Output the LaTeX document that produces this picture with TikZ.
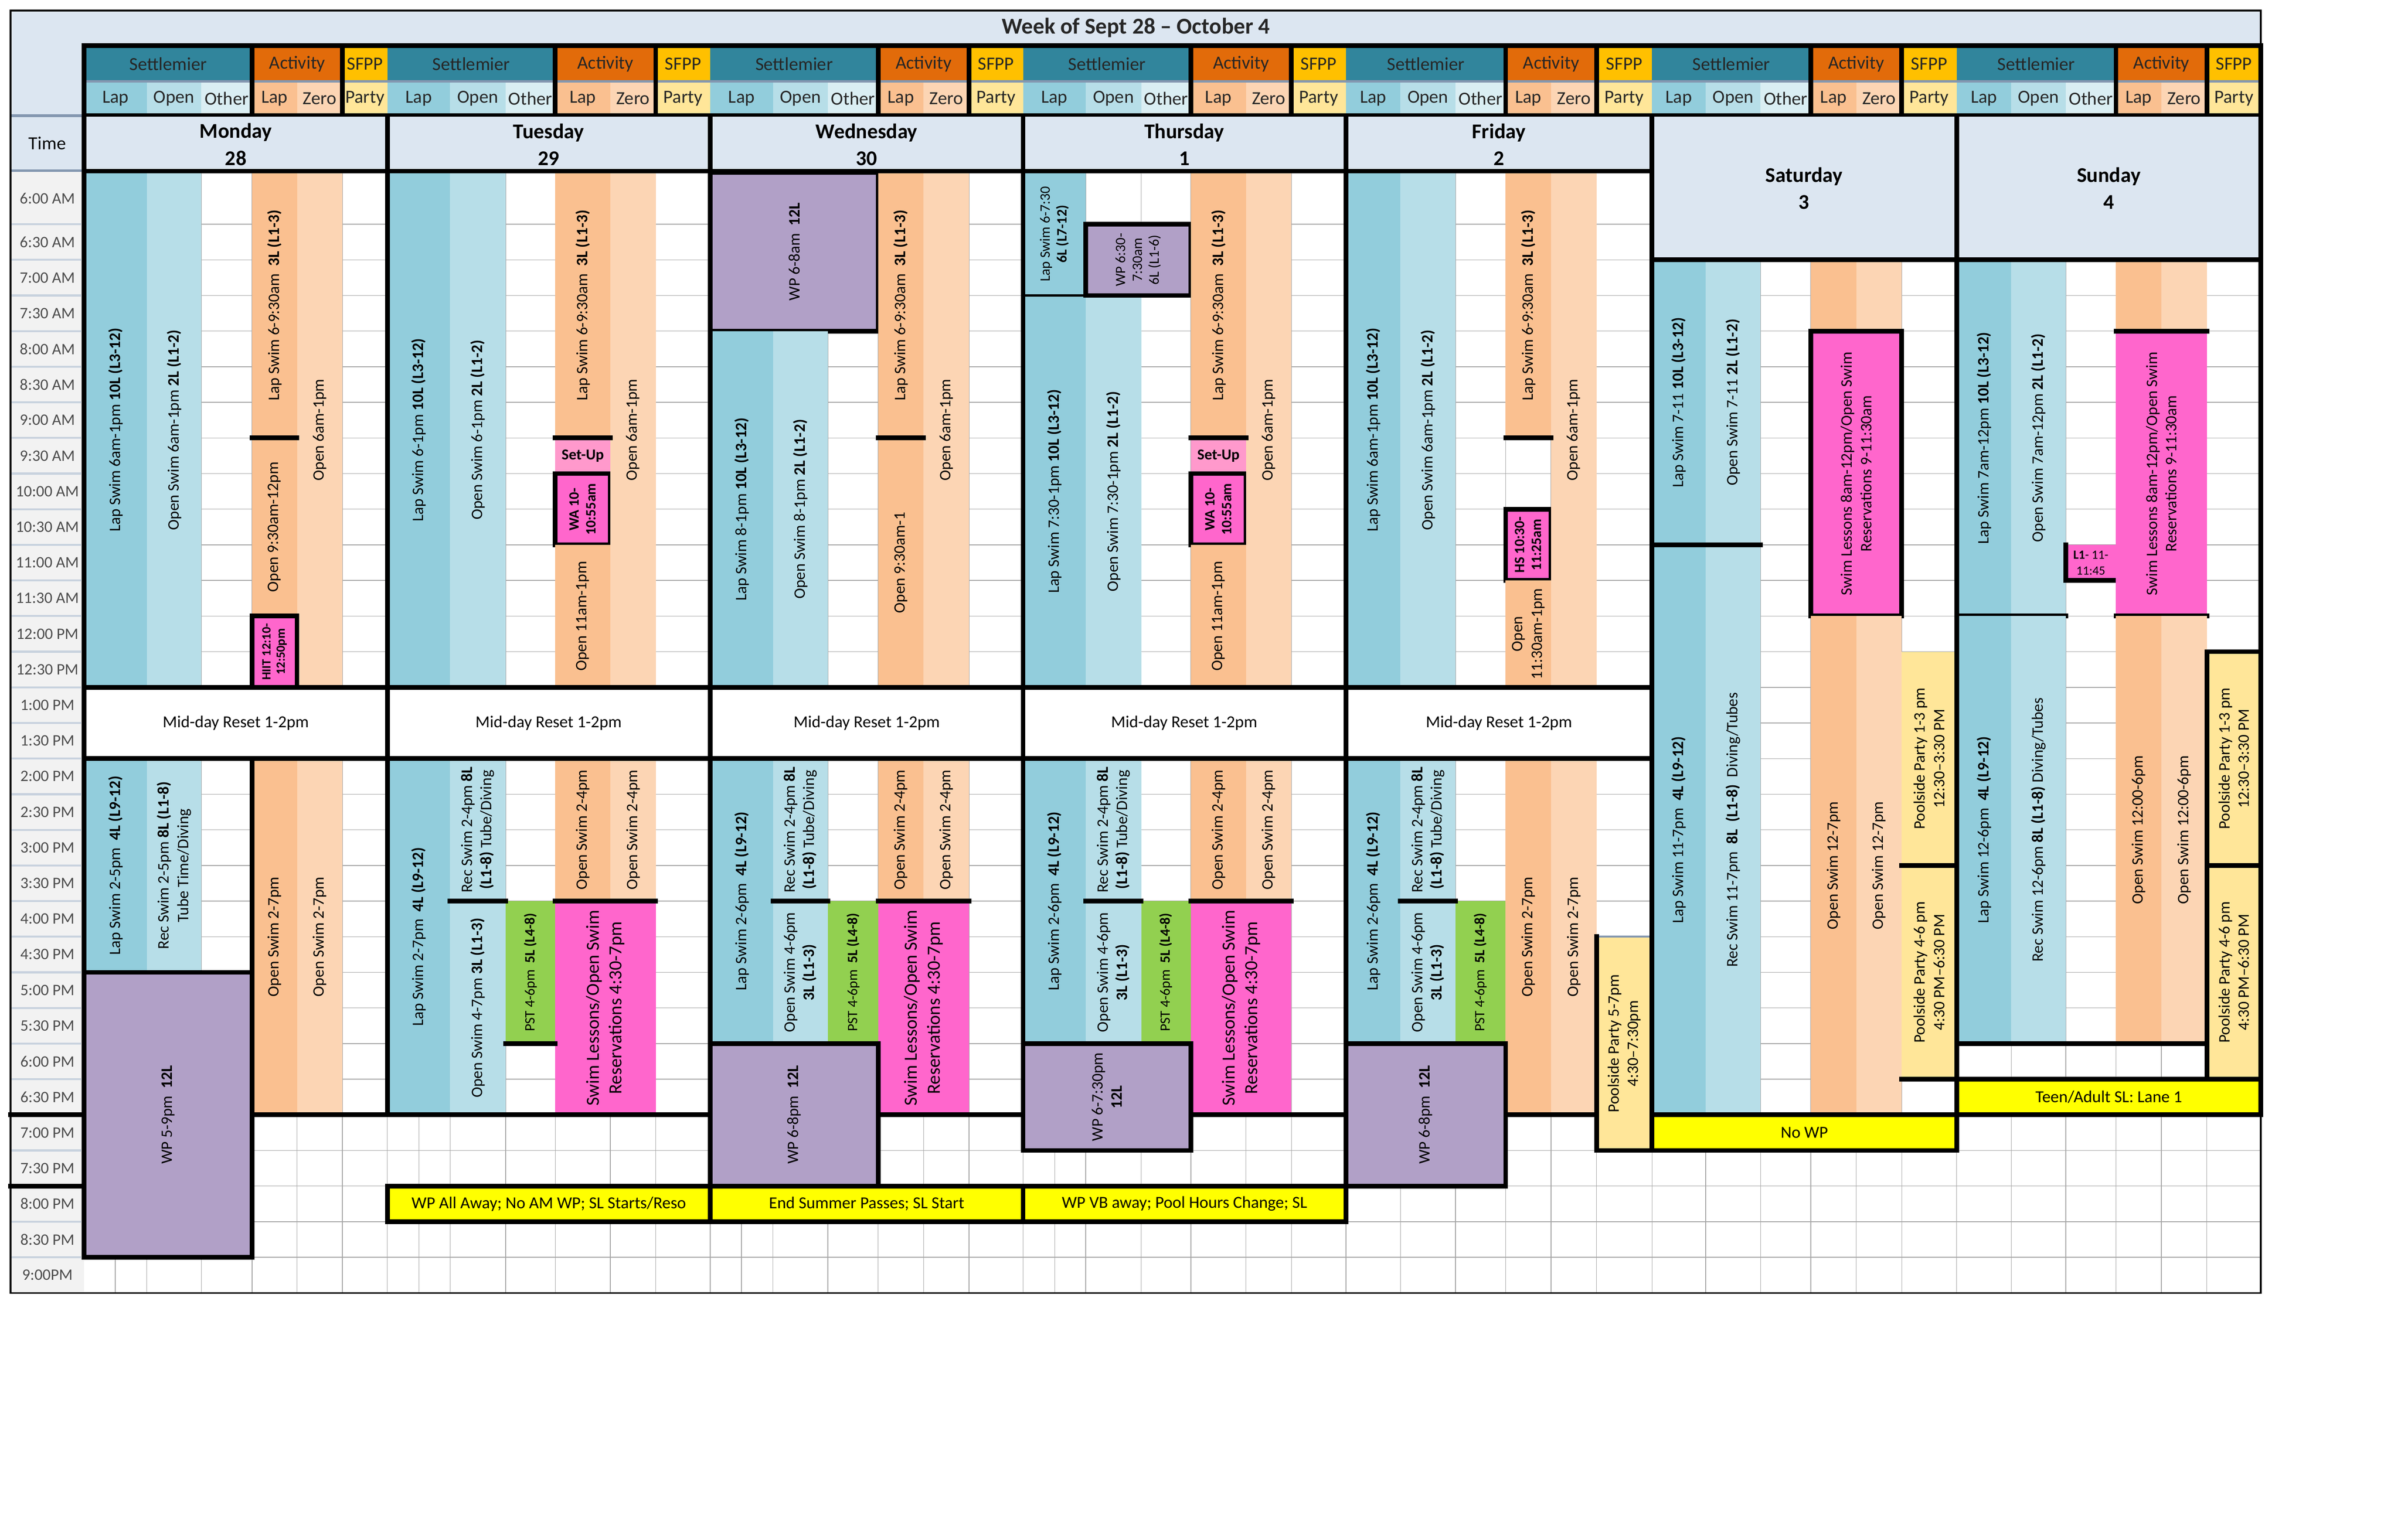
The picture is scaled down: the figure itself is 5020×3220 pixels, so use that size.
\documentclass[tikz,border=0pt]{standalone}
\usepackage{fontspec}
\setmainfont{Carlito}
\definecolor{lapC}{HTML}{92CDDC}
\definecolor{openC}{HTML}{B7DEE8}
\definecolor{otherC}{HTML}{DAEEF3}
\definecolor{alapC}{HTML}{FAC090}
\definecolor{zeroC}{HTML}{FCD5B4}
\definecolor{partyC}{HTML}{FFE699}
\definecolor{tealC}{HTML}{31859C}
\definecolor{actC}{HTML}{E26B0A}
\definecolor{sfppC}{HTML}{FFC000}
\definecolor{wpC}{HTML}{B1A0C7}
\definecolor{pinkC}{HTML}{FF66CC}
\definecolor{setupC}{HTML}{FF99CC}
\definecolor{pstC}{HTML}{92D050}
\definecolor{noteC}{HTML}{FFFF00}
\definecolor{hdrC}{HTML}{DCE6F1}
\definecolor{slate}{HTML}{8497B0}
\definecolor{timeC}{HTML}{F2F2F2}
\definecolor{gridC}{HTML}{A6A6A6}
\definecolor{tsep}{HTML}{C8D2DE}
\newcommand\mycell[8][]{\fill[#2] (#3,#4) rectangle (#5,#6); \node[vt,#1] (#7) at ({(#3+#5)/2},{(#4+#6)/2}) {#8};}
\newcommand\mybox[8][]{\fill[#2] (#3,#4) rectangle (#5,#6); \draw[thk] (#3,#4) rectangle (#5,#6); \node[vt,#1] (#7) at ({(#3+#5)/2},{(#4+#6)/2}) {#8};}
\newcommand\mynote[6]{\fill[noteC] (#1,#2) rectangle (#3,#4); \draw[thk] (#1,#2) rectangle (#3,#4); \node[nt] (#5) at ({(#1+#3)/2},{(#2+#4)/2}) {#6};}
\newcommand\dayhdr[8]{%
 \fill[tealC] (#1,98) rectangle (#4,170);
 \fill[actC] (#4,98) rectangle (#6,170);
 \fill[sfppC] (#6,98) rectangle (#7,170);
 \fill[lapC] (#1,170) rectangle (#2,240);
 \fill[openC] (#2,170) rectangle (#3,240);
 \fill[otherC] (#3,170) rectangle (#4,240);
 \fill[alapC] (#4,170) rectangle (#5,240);
 \fill[zeroC] (#5,170) rectangle (#6,240);
 \fill[partyC] (#6,170) rectangle (#7,240);
 \draw[slate,line width=1.6pt] (#1,170) -- (#7,170);
 \node[hd] (#8s) at ({(#1+#4)/2},134) {Settlemier};
 \node[hd] (#8a) at ({(#4+#6)/2},134) {Activity};
 \node[hd] (#8f) at ({(#6+#7)/2},134) {SFPP};
 \node[hd] (#8l) at ({(#1+#2)/2},206) {Lap};
 \node[hd] (#8o) at ({(#2+#3)/2},206) {Open};
 \node[hd] (#8t) at ({(#3+#4)/2},206) {Other};
 \node[hd] (#8m) at ({(#4+#5)/2},206) {Lap};
 \node[hd] (#8z) at ({(#5+#6)/2},206) {Zero};
 \node[hd] (#8p) at ({(#6+#7)/2},206) {Party};
 \draw[thk] (#4,95) -- (#4,242); \draw[thk] (#6,95) -- (#6,242);
}
\begin{document}
\begin{tikzpicture}[x=0.01cm,y=-0.01cm,
 thk/.style={line width=2.8pt,black,line cap=rect},
 grid/.style={gridC,line width=0.4pt},
 vt/.style={rotate=90,align=center,inner sep=0pt,font=\fontsize{9.5}{11.5}\selectfont},
 sm/.style={font=\fontsize{8.5}{10}\selectfont},
 tiny/.style={font=\fontsize{7.5}{8.5}\selectfont},
 big/.style={font=\fontsize{11}{13.5}\selectfont},
 hd/.style={font=\fontsize{11}{13}\selectfont,text=black!85,inner sep=0pt},
 nt/.style={font=\fontsize{10}{12}\selectfont,inner sep=0pt},
 dh/.style={font=\bfseries\fontsize{12.5}{16}\selectfont,align=center,inner sep=0pt},
 tl/.style={font=\fontsize{9.5}{11}\selectfont,text=black!70,inner sep=0pt}]
\useasboundingbox (0,0) rectangle (5020,3220);
\fill[white] (0,0) rectangle (5020,3220);
% title and left header
\fill[hdrC] (22,22) rectangle (4727,95);
\fill[hdrC] (22,95) rectangle (176,358);
\node[font=\bfseries\fontsize{13.5}{16}\selectfont,text=black!85] (title) at (2375,58) {Week of Sept 28 – October 4};
\draw[slate,line width=1.6pt] (22,242) -- (176,242);
\draw[slate,line width=1.6pt] (22,357) -- (176,357);
\node[font=\fontsize{11}{13}\selectfont] (time) at (99,300) {Time};
% time column
\fill[timeC] (22,359) rectangle (176,2704);
\foreach \n in {0,...,29} \draw[tsep,line width=1.2pt] (22,{469+74.5*\n}) -- (170,{469+74.5*\n});
\node[tl] (tla) at (99,415) {6:00 AM};
\foreach \n/\t in {0/6:30 AM,1/7:00 AM,2/7:30 AM,3/8:00 AM,4/8:30 AM,5/9:00 AM,6/9:30 AM,7/10:00 AM,8/10:30 AM,9/11:00 AM,10/11:30 AM,11/12:00 PM,12/12:30 PM,13/1:00 PM,14/1:30 PM,15/2:00 PM,16/2:30 PM,17/3:00 PM,18/3:30 PM,19/4:00 PM,20/4:30 PM,21/5:00 PM,22/5:30 PM,23/6:00 PM,24/6:30 PM,25/7:00 PM,26/7:30 PM,27/8:00 PM,28/8:30 PM,29/9:00PM}
  \node[tl] (tl\n) at (99,{469+74.5*\n+37.25}) {\t};
\draw[thk] (22,2331.5) -- (176,2331.5);
\draw[thk] (22,2480.5) -- (176,2480.5);
% grid
\foreach \n in {0,...,29} \draw[grid] (176,{469+74.5*\n}) -- (4727,{469+74.5*\n});
\foreach \x in {241,307,421,527,621,716,810,876,941,1057,1161,1276,1371,1485,1550,1616,1731,1836,1931,2026,2139,2205,2270,2386,2490,2605,2700,2814,2928,3043,3148,3243,3338,3454,3566,3681,3786,3881,3976,4091,4205,4319,4424,4519,4614}
  \draw[grid] (\x,361) -- (\x,2704);
% headers
\dayhdr{176}{307}{421}{527}{621}{716}{810}{mon}
\dayhdr{810}{941}{1057}{1161}{1276}{1371}{1485}{tue}
\dayhdr{1485}{1616}{1731}{1836}{1931}{2026}{2139}{wed}
\dayhdr{2139}{2270}{2386}{2490}{2605}{2700}{2814}{thu}
\dayhdr{2814}{2928}{3043}{3148}{3243}{3338}{3454}{fri}
\dayhdr{3454}{3566}{3681}{3786}{3881}{3976}{4091}{sat}
\dayhdr{4091}{4205}{4319}{4424}{4519}{4614}{4727}{sun}
\draw[thk] (176,95) rectangle (4727,242);
\fill[hdrC] (176,244) rectangle (3454,358);
\fill[hdrC] (3454,244) rectangle (4727,543.5);
\node[dh] (dmon) at (493,302) {Monday\\28};
\node[dh] (dtue) at (1147,302) {Tuesday\\29};
\node[dh] (dwed) at (1812,302) {Wednesday\\30};
\node[dh] (dthu) at (2476,302) {Thursday\\1};
\node[dh] (dfri) at (3134,302) {Friday\\2};
\node[dh] (dsat) at (3772,394) {Saturday\\3};
\node[dh] (dsun) at (4409,394) {Sunday\\4};
% ===== Monday
\mycell{lapC}{176}{361}{307}{1437.5}{m1}{Lap Swim 6am-1pm \textbf{10L (L3-12)}}
\mycell{openC}{307}{361}{421}{1437.5}{m2}{Open Swim 6am-1pm \textbf{2L (L1-2)}}
\mycell{alapC}{527}{361}{621}{916}{m3}{Lap Swim 6-9:30am\ \ \textbf{3L (L1-3)}}
\mycell{alapC}{527}{916}{621}{1288.5}{m4}{Open 9:30am-12pm}
\mycell{zeroC}{621}{361}{716}{1437.5}{m5}{Open 6am-1pm}
\mybox[tiny]{pinkC}{527}{1288.5}{621}{1437.5}{m6}{\textbf{HIIT 12:10-}\\\textbf{12:50pm}}
\draw[thk] (527,916) -- (621,916);
\mycell{lapC}{176}{1586.5}{307}{2033.5}{m7}{Lap Swim 2-5pm\ \ \textbf{4L (L9-12)}}
\mycell{openC}{307}{1586.5}{421}{2033.5}{m8}{Rec Swim 2-5pm \textbf{8L (L1-8)}\\Tube Time/Diving}
\mycell{alapC}{527}{1586.5}{621}{2331.5}{m9}{Open Swim 2-7pm}
\mycell{zeroC}{621}{1586.5}{716}{2331.5}{m10}{Open Swim 2-7pm}
\mybox{wpC}{176}{2033.5}{527}{2629.5}{m11}{WP 5-9pm\ \ \textbf{12L}}
\draw[thk] (527,1586.5) -- (527,2033.5);
\draw[thk] (527,2331.5) -- (810,2331.5);
% ===== Tuesday
\mycell{lapC}{810}{361}{941}{1437.5}{t1}{Lap Swim 6-1pm \textbf{10L (L3-12)}}
\mycell{openC}{941}{361}{1057}{1437.5}{t2}{Open Swim 6-1pm \textbf{2L (L1-2)}}
\mycell{alapC}{1161}{361}{1276}{916}{t3}{Lap Swim 6-9:30am\ \ \textbf{3L (L1-3)}}
\fill[setupC] (1161,916) rectangle (1276,990.5);
\node[font=\bfseries\fontsize{9}{10}\selectfont] (t4) at (1218.5,953) {Set-Up};
\mybox[sm]{pinkC}{1161}{990.5}{1276}{1139.5}{t5}{\textbf{WA 10-}\\\textbf{10:55am}}
\mycell{alapC}{1161}{1139.5}{1276}{1437.5}{t6}{Open 11am-1pm}
\mycell{zeroC}{1276}{361}{1371}{1437.5}{t7}{Open 6am-1pm}
\draw[thk] (1161,916) -- (1276,916);
\mycell{lapC}{810}{1586.5}{941}{2331.5}{t8}{Lap Swim 2-7pm\ \ \textbf{4L (L9-12)}}
\mycell{openC}{941}{1586.5}{1057}{1884.5}{t9}{Rec Swim 2-4pm \textbf{8L}\\\textbf{(L1-8)} Tube/Diving}
\mycell{openC}{941}{1884.5}{1057}{2331.5}{t10}{Open Swim 4-7pm \textbf{3L (L1-3)}}
\mycell[sm]{pstC}{1057}{1884.5}{1161}{2182.5}{t11}{PST 4-6pm\ \ \textbf{5L (L4-8)}}
\mycell{alapC}{1161}{1586.5}{1276}{1884.5}{t12}{Open Swim 2-4pm}
\mycell{zeroC}{1276}{1586.5}{1371}{1884.5}{t13}{Open Swim 2-4pm}
\mycell[big]{pinkC}{1161}{1884.5}{1371}{2331.5}{t14}{Swim Lessons/Open Swim\\Reservations 4:30-7pm}
\draw[thk] (941,1884.5) -- (1057,1884.5);
\draw[thk] (1161,1884.5) -- (1371,1884.5);
\draw[thk] (1057,2182.5) -- (1161,2182.5);
\draw[thk] (810,2331.5) -- (1485,2331.5);
\mynote{810}{2480.5}{1485}{2555}{t15}{WP All Away; No AM WP; SL Starts/Reso}
% ===== Wednesday
\mybox{wpC}{1485}{361}{1836}{692.5}{w1}{WP 6-8am\ \ \textbf{12L}}
\mycell{lapC}{1485}{692.5}{1616}{1437.5}{w2}{Lap Swim 8-1pm \textbf{10L (L3-12)}}
\mycell{openC}{1616}{692.5}{1731}{1437.5}{w3}{Open Swim 8-1pm \textbf{2L (L1-2)}}
\mycell{alapC}{1836}{361}{1931}{916}{w4}{Lap Swim 6-9:30am\ \ \textbf{3L (L1-3)}}
\mycell{alapC}{1836}{916}{1931}{1437.5}{w5}{Open 9:30am-1}
\mycell{zeroC}{1931}{361}{2026}{1437.5}{w6}{Open 6am-1pm}
\draw[thk] (1836,916) -- (1931,916);
\mycell{lapC}{1485}{1586.5}{1616}{2182.5}{w7}{Lap Swim 2-6pm\ \ \textbf{4L (L9-12)}}
\mycell{openC}{1616}{1586.5}{1731}{1884.5}{w8}{Rec Swim 2-4pm \textbf{8L}\\\textbf{(L1-8)} Tube/Diving}
\mycell{openC}{1616}{1884.5}{1731}{2182.5}{w9}{Open Swim 4-6pm\\\textbf{3L (L1-3)}}
\mycell[sm]{pstC}{1731}{1884.5}{1836}{2182.5}{w10}{PST 4-6pm\ \ \textbf{5L (L4-8)}}
\mycell{alapC}{1836}{1586.5}{1931}{1884.5}{w11}{Open Swim 2-4pm}
\mycell{zeroC}{1931}{1586.5}{2026}{1884.5}{w12}{Open Swim 2-4pm}
\mycell[big]{pinkC}{1836}{1884.5}{2026}{2331.5}{w13}{Swim Lessons/Open Swim\\Reservations 4:30-7pm}
\mybox{wpC}{1485}{2182.5}{1836}{2480.5}{w14}{WP 6-8pm\ \ \textbf{12L}}
\draw[thk] (1616,1884.5) -- (1731,1884.5);
\draw[thk] (1836,1884.5) -- (2026,1884.5);
\draw[thk] (1836,2331.5) -- (2139,2331.5);
\mynote{1485}{2480.5}{2139}{2555}{w15}{End Summer Passes; SL Start}
% ===== Thursday
\mycell[sm]{lapC}{2139}{361}{2270}{618}{h1}{Lap Swim 6-7:30\\\textbf{6L (L7-12)}}
\mycell{lapC}{2139}{618}{2270}{1437.5}{h3}{Lap Swim 7:30-1pm \textbf{10L (L3-12)}}
\mycell{openC}{2270}{618}{2386}{1437.5}{h4}{Open Swim 7:30-1pm \textbf{2L (L1-2)}}
\mybox[sm]{wpC}{2270}{469}{2490}{618}{h2}{WP 6:30-\\7:30am\\6L (L1-6)}
\draw[line width=1.2pt] (2139,618) -- (2270,618);
\mycell{alapC}{2490}{361}{2605}{916}{h5}{Lap Swim 6-9:30am\ \ \textbf{3L (L1-3)}}
\fill[setupC] (2490,916) rectangle (2605,990.5);
\node[font=\bfseries\fontsize{9}{10}\selectfont] (h6) at (2547.5,953) {Set-Up};
\mybox[sm]{pinkC}{2490}{990.5}{2605}{1139.5}{h7}{\textbf{WA 10-}\\\textbf{10:55am}}
\mycell{alapC}{2490}{1139.5}{2605}{1437.5}{h8}{Open 11am-1pm}
\mycell{zeroC}{2605}{361}{2700}{1437.5}{h9}{Open 6am-1pm}
\draw[thk] (2490,916) -- (2605,916);
\mycell{lapC}{2139}{1586.5}{2270}{2182.5}{h10}{Lap Swim 2-6pm\ \ \textbf{4L (L9-12)}}
\mycell{openC}{2270}{1586.5}{2386}{1884.5}{h11}{Rec Swim 2-4pm \textbf{8L}\\\textbf{(L1-8)} Tube/Diving}
\mycell{openC}{2270}{1884.5}{2386}{2182.5}{h12}{Open Swim 4-6pm\\\textbf{3L (L1-3)}}
\mycell[sm]{pstC}{2386}{1884.5}{2490}{2182.5}{h13}{PST 4-6pm\ \ \textbf{5L (L4-8)}}
\mycell{alapC}{2490}{1586.5}{2605}{1884.5}{h14}{Open Swim 2-4pm}
\mycell{zeroC}{2605}{1586.5}{2700}{1884.5}{h15}{Open Swim 2-4pm}
\mycell[big]{pinkC}{2490}{1884.5}{2700}{2331.5}{h16}{Swim Lessons/Open Swim\\Reservations 4:30-7pm}
\mybox{wpC}{2139}{2182.5}{2490}{2406}{h17}{WP 6-7:30pm\\\textbf{12L}}
\draw[thk] (2270,1884.5) -- (2386,1884.5);
\draw[thk] (2490,1884.5) -- (2700,1884.5);
\draw[thk] (2490,2331.5) -- (2814,2331.5);
\mynote{2139}{2480.5}{2814}{2555}{h18}{WP VB away; Pool Hours Change; SL}
% ===== Friday
\mycell{lapC}{2814}{361}{2928}{1437.5}{f1}{Lap Swim 6am-1pm \textbf{10L (L3-12)}}
\mycell{openC}{2928}{361}{3043}{1437.5}{f2}{Open Swim 6am-1pm \textbf{2L (L1-2)}}
\mycell{alapC}{3148}{361}{3243}{916}{f3}{Lap Swim 6-9:30am\ \ \textbf{3L (L1-3)}}
\mybox[sm]{pinkC}{3148}{1065}{3243}{1214}{f4}{\textbf{HS 10:30-}\\\textbf{11:25am}}
\mycell{alapC}{3148}{1214}{3243}{1437.5}{f5}{Open\\11:30am-1pm}
\mycell{zeroC}{3243}{361}{3338}{1437.5}{f6}{Open 6am-1pm}
\draw[thk] (3148,916) -- (3243,916);
\mycell{lapC}{2814}{1586.5}{2928}{2182.5}{f7}{Lap Swim 2-6pm\ \ \textbf{4L (L9-12)}}
\mycell{openC}{2928}{1586.5}{3043}{1884.5}{f8}{Rec Swim 2-4pm \textbf{8L}\\\textbf{(L1-8)} Tube/Diving}
\mycell{openC}{2928}{1884.5}{3043}{2182.5}{f9}{Open Swim 4-6pm\\\textbf{3L (L1-3)}}
\mycell[sm]{pstC}{3043}{1884.5}{3148}{2182.5}{f10}{PST 4-6pm\ \ \textbf{5L (L4-8)}}
\mycell{alapC}{3148}{1586.5}{3243}{2331.5}{f11}{Open Swim 2-7pm}
\mycell{zeroC}{3243}{1586.5}{3338}{2331.5}{f12}{Open Swim 2-7pm}
\mybox{wpC}{2814}{2182.5}{3148}{2480.5}{f13}{WP 6-8pm\ \ \textbf{12L}}
\mycell{partyC}{3338}{1959}{3454}{2406}{f14}{Poolside Party 5-7pm\\4:30–7:30pm}
\draw[slate,line width=1.2pt] (3338,1959) -- (3454,1959);
\draw[thk] (3338,1959) -- (3338,2406) -- (3454,2406);
\draw[thk] (2928,1884.5) -- (3043,1884.5);
\draw[thk] (3148,2331.5) -- (3338,2331.5);
% ===== Saturday
\mycell{lapC}{3454}{543.5}{3566}{1139.5}{s1}{Lap Swim 7-11 \textbf{10L (L3-12)}}
\mycell{openC}{3566}{543.5}{3681}{1139.5}{s2}{Open Swim 7-11 \textbf{2L (L1-2)}}
\mycell{lapC}{3454}{1139.5}{3566}{2331.5}{s3}{Lap Swim 11-7pm\ \ \textbf{4L (L9-12)}}
\mycell{openC}{3566}{1139.5}{3681}{2331.5}{s4}{Rec Swim 11-7pm\ \ \textbf{8L\ \ (L1-8)}\ \ Diving/Tubes}
\fill[alapC] (3786,543.5) rectangle (3881,692.5);
\fill[zeroC] (3881,543.5) rectangle (3976,692.5);
\mybox{pinkC}{3786}{692.5}{3976}{1288.5}{s5}{Swim Lessons 8am-12pm/Open Swim\\Reservations 9-11:30am}
\mycell{alapC}{3786}{1288.5}{3881}{2331.5}{s6}{Open Swim 12-7pm}
\mycell{zeroC}{3881}{1288.5}{3976}{2331.5}{s7}{Open Swim 12-7pm}
\mycell{partyC}{3976}{1363}{4091}{1810}{s8}{Poolside Party 1-3 pm\\12:30–3:30 PM}
\mycell{partyC}{3976}{1810}{4091}{2257}{s9}{Poolside Party 4-6 pm\\4:30 PM–6:30 PM}
\draw[thk] (3454,1139.5) -- (3681,1139.5);
\draw[thk] (3976,1810) -- (4091,1810);
\draw[thk] (3976,2257) -- (4091,2257);
\mynote{3454}{2331.5}{4091}{2406}{s10}{No WP}
% ===== Sunday
\mycell{lapC}{4091}{543.5}{4205}{1288.5}{u1}{Lap Swim 7am-12pm \textbf{10L (L3-12)}}
\mycell{openC}{4205}{543.5}{4319}{1288.5}{u2}{Open Swim 7am-12pm \textbf{2L (L1-2)}}
\fill[pinkC] (4319,1139.5) rectangle (4424,1214);
\node[font=\fontsize{7.5}{9.5}\selectfont,align=center] (u3) at (4371.5,1177) {\textbf{L1}- 11-\\11:45};
\draw[thk] (4319,1139.5) -- (4319,1214) -- (4424,1214);
\fill[alapC] (4424,543.5) rectangle (4519,692.5);
\fill[zeroC] (4519,543.5) rectangle (4614,692.5);
\mycell{pinkC}{4424}{692.5}{4614}{1288.5}{u4}{Swim Lessons 8am-12pm/Open Swim\\Reservations 9-11:30am}
\draw[thk] (4424,692.5) -- (4614,692.5);
\draw[thk] (4091,1288.5) -- (4319,1288.5);
\draw[thk] (4424,1288.5) -- (4614,1288.5);
\mycell{lapC}{4091}{1288.5}{4205}{2182.5}{u5}{Lap Swim 12-6pm\ \ \textbf{4L (L9-12)}}
\mycell{openC}{4205}{1288.5}{4319}{2182.5}{u6}{Rec Swim 12-6pm \textbf{8L (L1-8)} Diving/Tubes}
\mycell{alapC}{4424}{1288.5}{4519}{2182.5}{u7}{Open Swim 12:00-6pm}
\mycell{zeroC}{4519}{1288.5}{4614}{2182.5}{u8}{Open Swim 12:00-6pm}
\mycell{partyC}{4614}{1363}{4727}{1810}{u9}{Poolside Party 1-3 pm\\12:30–3:30 PM}
\mycell{partyC}{4614}{1810}{4727}{2257}{u10}{Poolside Party 4-6 pm\\4:30 PM–6:30 PM}
\draw[thk] (4091,2182.5) -- (4614,2182.5);
\draw[thk] (4614,2257) -- (4614,1363) -- (4727,1363);
\draw[thk] (4614,1810) -- (4727,1810);
\mynote{4091}{2257}{4727}{2331.5}{u11}{Teen/Adult SL: Lane 1}
% ===== midday reset
\fill[white] (176,1437.5) rectangle (3454,1586.5);
\node[nt] (r1) at (493,1512) {Mid-day Reset 1-2pm};
\node[nt] (r2) at (1147,1512) {Mid-day Reset 1-2pm};
\node[nt] (r3) at (1812,1512) {Mid-day Reset 1-2pm};
\node[nt] (r4) at (2476,1512) {Mid-day Reset 1-2pm};
\node[nt] (r5) at (3134,1512) {Mid-day Reset 1-2pm};
\draw[thk] (176,1437.5) -- (3454,1437.5);
\draw[thk] (176,1586.5) -- (3454,1586.5);
% ===== structure lines
\draw[thk] (176,358) -- (3454,358);
\draw[thk] (3454,543.5) -- (4727,543.5);
\draw[thk] (176,242) -- (176,2629.5);
\draw[thk] (810,242) -- (810,2331.5);
\draw[thk] (1485,242) -- (1485,2480.5);
\draw[thk] (2139,242) -- (2139,2406);
\draw[thk] (2814,242) -- (2814,2480.5);
\draw[thk] (3454,242) -- (3454,2406);
\draw[thk] (4091,242) -- (4091,2406);
\draw[thk] (4727,95) -- (4727,2331.5);
\draw[black,line width=1pt] (22,22) rectangle (4727,2704);
\end{tikzpicture}
\end{document}
